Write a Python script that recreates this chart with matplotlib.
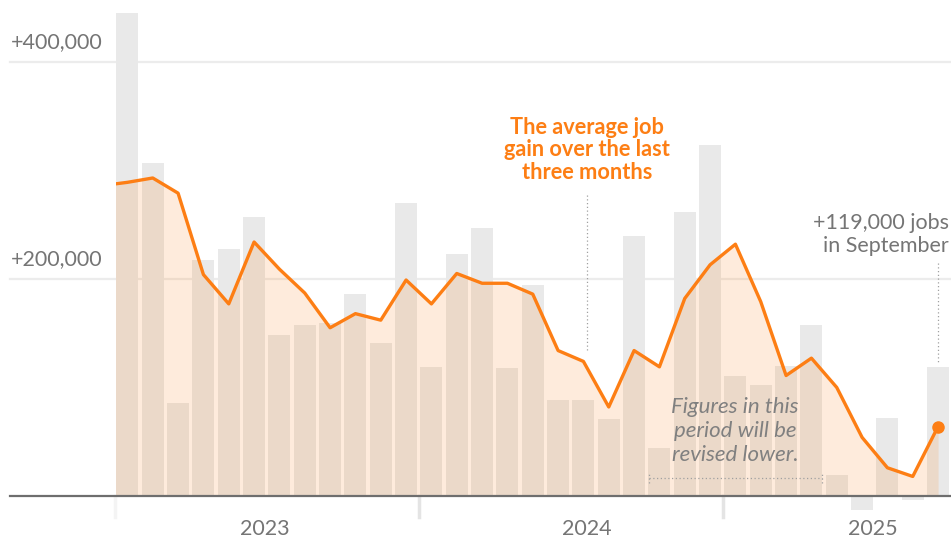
import numpy as np
import matplotlib.pyplot as plt
from matplotlib.patches import Rectangle

# Monthly job gains, Jan 2023 - Sep 2025 (thousands)
job_gains = [445, 307, 86, 217, 228, 257, 148, 158, 159, 186, 141, 270,
             119, 223, 247, 118, 194, 88, 88, 71, 240, 44, 262, 323,
             111, 102, 120, 158, 19, -13, 72, -4, 119]

# Three-month average, starting with Dec 2022 (clipped at the left edge)
avg_gain = [286, 289, 293, 279, 204, 177, 234, 209, 187, 155, 168, 162, 199,
            177, 205, 196, 196, 186, 134, 124, 82, 134, 119, 182, 213,
            232, 179, 111, 127, 100, 54, 26, 18, 64]

year_labels = ['2023', '2024', '2025']
year_label_pos = [5.43, 18.14, 29.43]
year_ticks = [-0.5, 11.5, 23.5]
y_ticks = [200, 400]
y_tick_labels = ['+200,000', '+400,000']

ORANGE = '#fd7e14'
GRAY_TXT = '#757575'

plt.rcParams['font.family'] = ['Lato', 'DejaVu Sans']

fig = plt.figure(figsize=(9.51, 5.42), dpi=100)
ax = fig.add_axes([0, 0, 1, 1])
ax.set_xlim(-5.03, 32.51)
ax.set_ylim(-42.4, 457)
ax.axis('off')

x = np.arange(len(job_gains))
x_avg = np.arange(-1, len(job_gains))
left = -4.62

# gridlines and y labels
for v, lab in zip(y_ticks, y_tick_labels):
    ax.plot([left, 32.51], [v, v], color='#ececec', lw=1.6, zorder=0)
    ax.text(left, v + 9, lab, ha='left', va='bottom', fontsize=15.5,
            color=GRAY_TXT)

# bars
ax.bar(x, job_gains, width=0.87, color='#e9e9e9', zorder=1)

# average line with fill
clip = Rectangle((-0.45, -100), 40, 700, transform=ax.transData)
fill = ax.fill_between(x_avg, avg_gain, 0, color=ORANGE, alpha=0.15,
                       lw=0, zorder=2)
fill.set_clip_path(clip)
line, = ax.plot(x_avg, avg_gain, color=ORANGE, lw=2.4, zorder=4)
line.set_clip_path(clip)
ax.plot(x[-1], avg_gain[-1], 'o', color=ORANGE, ms=8, zorder=5)

ax.plot([left, 32.51], [0, 0], color='#6e6e6e', lw=1.6, zorder=3)

# year ticks and labels
for t in year_ticks:
    ax.plot([t, t], [0, -19], color='#e4e4e4' if t > 0 else '#f4f4f4',
            lw=2.5, zorder=0)
for p, lab in zip(year_label_pos, year_labels):
    ax.text(p, -30, lab, ha='center', va='center', fontsize=15.5,
            color=GRAY_TXT)

# annotations
ax.text(18.14, 319, 'The average job\ngain over the last\nthree months',
        ha='center', va='center', fontsize=15.7, fontweight='bold',
        color=ORANGE, linespacing=1.08, zorder=6)
ax.plot([18.14, 18.14], [277, 134], ls=(0, (1, 2)), color='#a0a0a0',
        lw=0.9, zorder=6)

ax.text(32.42, 241, '+119,000 jobs\nin September', ha='right', va='center',
        fontsize=15.5, color=GRAY_TXT, linespacing=1.15, zorder=6)
ax.plot([32, 32], [215, 122], ls=(0, (1, 2)), color='#a0a0a0', lw=0.9,
        zorder=6)

ax.text(23.98, 60, 'Figures in this\nperiod will be\nrevised lower.',
        ha='center', va='center', fontsize=16, style='italic',
        color='#808080', linespacing=1.25, zorder=6)
ax.plot([20.6, 27.4], [17, 17], ls=(0, (1, 2)), color='#a0a0a0', lw=0.9,
        zorder=6)
for bx in [20.6, 27.4]:
    ax.plot([bx, bx], [12, 22], ls=(0, (1, 2)), color='#a0a0a0', lw=0.9,
            zorder=6)

fig.savefig('out.png', dpi=100)
